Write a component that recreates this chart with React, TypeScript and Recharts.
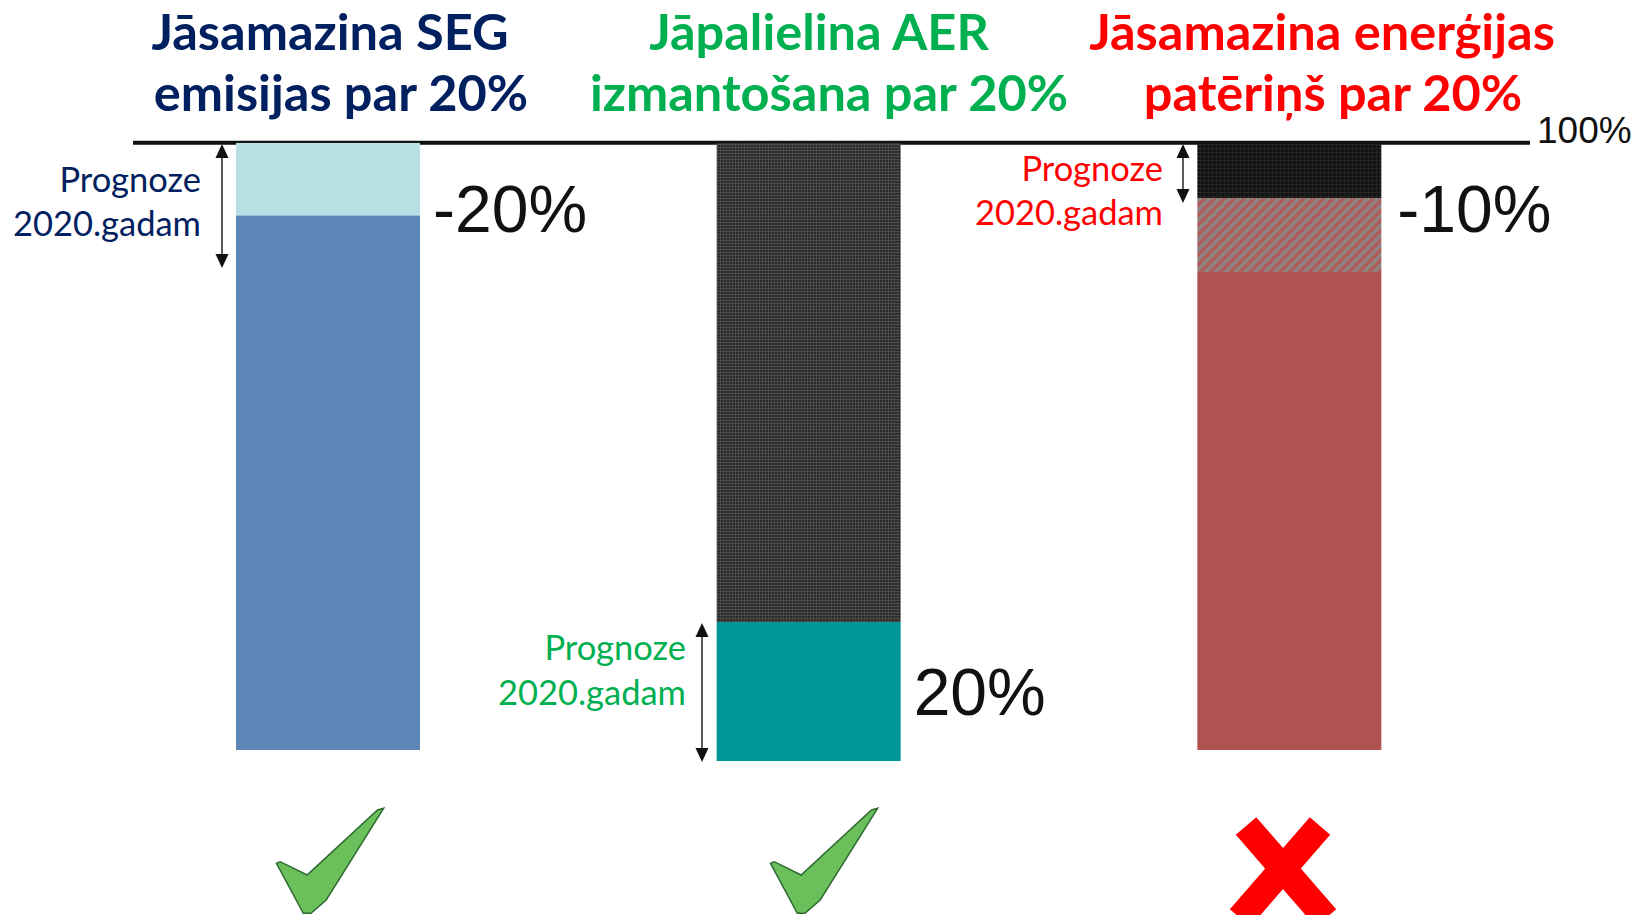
import { BarChart, Bar, XAxis, YAxis, Cell, LabelList, ReferenceLine } from "recharts"

// depth of each part below the 100% line, in % of a full bar
const CATEGORIES = ["SEG emisijas", "AER izmantošana", "Enerģijas patēriņš"]
const TOP_PART = [12.0, 78.9, 9.2]
const MIDDLE_PART = [0, 0, 12.1]
const BOTTOM_PART = [88.0, 22.9, 78.7]
const CHANGE_LABELS = ["-20%", "20%", "-10%"]
const LINE_LABEL = "100%"
const TITLE_LINES = [
  ["Jāsamazina SEG", "emisijas par 20%"],
  ["Jāpalielina AER", "izmantošana par 20%"],
  ["Jāsamazina enerģijas", "patēriņš par 20%"],
]
const FORECAST_LINES = ["Prognoze", "2020.gadam"]
const VERDICTS = ["ok", "ok", "fail"]

const data = CATEGORIES.map((name, i) => ({
  name,
  top: TOP_PART[i],
  middle: MIDDLE_PART[i],
  bottom: BOTTOM_PART[i],
}))

const W = 1641
const H = 915
const TITLE_COLORS = ["#002060", "#00b050", "#ff0000"]
const TOP_FILLS = ["#b8dfe4", "url(#aerGrid)", "url(#blackGrid)"]
const MIDDLE_FILLS = ["none", "none", "url(#redHatch)"]
const BOTTOM_FILLS = ["#5e87b8", "#009796", "#b0524f"]
const TITLE_X = [
  [330, 341],
  [819, 829],
  [1322, 1333],
]
const TITLE_Y = [50, 111]
// arrow x, arrow top, arrow bottom, text right edge, text baselines
const FORECAST_POS = [
  { ax: 222, y1: 144, y2: 268, tx: 201, b: [192, 236] },
  { ax: 702, y1: 623, y2: 762, tx: 686, b: [660, 705] },
  { ax: 1183, y1: 144, y2: 203, tx: 1163, b: [181, 225] },
]
const CHECK_X = [0, 494]
const CHECK_SHAPE =
  "M383.6,808.3 L326.2,900 L311,913.3 L303.3,913.3 L276.5,863.3 L280.3,861.7 L307.1,875 L377.5,810 Z"
const LINE_START_X = 133

const bigText = {
  fontFamily: "'Liberation Sans', Arial, sans-serif",
  fontSize: 66,
  fill: "#111",
}

function changeLabel(part: "top" | "bottom") {
  return (props: any) => {
    const { x, y, width, height, index } = props
    if (part === "top" && index === 1) return null
    if (part === "bottom" && index !== 1) return null
    // the y axis is reversed, so height can come in negative
    const top = Math.min(y, y + height)
    const ty = part === "top" ? top + 89 : top + Math.abs(height) / 2 + 24
    const gap = index === 2 ? 16 : 13
    return (
      <text x={x + width + gap} y={ty} {...bigText}>
        {CHANGE_LABELS[index]}
      </text>
    )
  }
}

function Arrow({ x, y1, y2 }: { x: number; y1: number; y2: number }) {
  return (
    <g>
      <line x1={x} y1={y1 + 8} x2={x} y2={y2 - 8} stroke="#333" strokeWidth={1.6} />
      <polygon points={`${x},${y1} ${x - 6.5},${y1 + 14} ${x + 6.5},${y1 + 14}`} fill="#111" />
      <polygon points={`${x},${y2} ${x - 6.5},${y2 - 14} ${x + 6.5},${y2 - 14}`} fill="#111" />
    </g>
  )
}

export default function App() {
  return (
    <div style={{ position: "absolute", left: 0, top: 0, width: W, height: H, background: "#fff" }}>
      <svg width={0} height={0} style={{ position: "absolute" }}>
        <defs>
          <pattern id="aerGrid" patternUnits="userSpaceOnUse" width={3} height={3}>
            <rect width={3} height={3} fill="#282828" />
            <rect width={3} height={1} fill="#4e4e4e" />
            <rect width={1} height={3} fill="#484848" />
          </pattern>
          <pattern id="blackGrid" patternUnits="userSpaceOnUse" width={4} height={4}>
            <rect width={4} height={4} fill="#121212" />
            <rect width={4} height={1} fill="#262626" />
            <rect width={1} height={4} fill="#222" />
          </pattern>
          <pattern id="redHatch" patternUnits="userSpaceOnUse" width={7} height={7} patternTransform="rotate(45)">
            <rect width={7} height={7} fill="#ad5c58" />
            <rect width={3.5} height={7} fill="#8f8383" />
          </pattern>
        </defs>
      </svg>

      <BarChart
        width={W}
        height={H}
        data={data}
        margin={{ top: 142.7, right: 111, bottom: 43.5, left: 88 }}
      >
        <XAxis dataKey="name" hide />
        <YAxis type="number" domain={[0, 120]} reversed allowDataOverflow hide />
        <ReferenceLine
          y={0}
          zIndex={100}
          stroke="#111"
          strokeWidth={4}
          shape={(p: any) => (
            <line x1={LINE_START_X} y1={p.y1} x2={p.x2} y2={p.y2} stroke="#111" strokeWidth={4} />
          )}
          label={(p: any) => {
            const vb = p.viewBox || {}
            return (
              <text
                x={(vb.x || 0) + (vb.width || 0) + 7}
                y={(vb.y || 0) + 0.5}
                fontFamily="'Liberation Sans', Arial, sans-serif"
                fontSize={37}
                fill="#111"
              >
                {LINE_LABEL}
              </text>
            )
          }}
        />
        <Bar dataKey="top" stackId="a" barSize={184} isAnimationActive={false}>
          {data.map((d, i) => (
            <Cell key={d.name} fill={TOP_FILLS[i]} />
          ))}
          <LabelList dataKey="top" content={changeLabel("top")} />
        </Bar>
        <Bar dataKey="middle" stackId="a" barSize={184} isAnimationActive={false}>
          {data.map((d, i) => (
            <Cell key={d.name} fill={MIDDLE_FILLS[i]} />
          ))}
        </Bar>
        <Bar dataKey="bottom" stackId="a" barSize={184} isAnimationActive={false}>
          {data.map((d, i) => (
            <Cell key={d.name} fill={BOTTOM_FILLS[i]} />
          ))}
          <LabelList dataKey="bottom" content={changeLabel("bottom")} />
        </Bar>
      </BarChart>

      <svg
        width={W}
        height={H}
        style={{ position: "absolute", left: 0, top: 0, pointerEvents: "none" }}
      >
        {TITLE_LINES.map((lines, i) =>
          lines.map((t, j) => (
            <text
              key={t}
              x={TITLE_X[i][j]}
              y={TITLE_Y[j]}
              textAnchor="middle"
              fontFamily="Lato, 'Open Sans', sans-serif"
              fontWeight={700}
              fontSize={50.5}
              fill={TITLE_COLORS[i]}
            >
              {t}
            </text>
          ))
        )}
        {FORECAST_POS.map((f, i) => (
          <g key={i}>
            <Arrow x={f.ax} y1={f.y1} y2={f.y2} />
            {FORECAST_LINES.map((t, j) => (
              <text
                key={t}
                x={f.tx}
                y={f.b[j]}
                textAnchor="end"
                fontFamily="Lato, 'Open Sans', sans-serif"
                fontSize={34.5}
                fill={TITLE_COLORS[i]}
              >
                {t}
              </text>
            ))}
          </g>
        ))}
        {VERDICTS.map((v, i) =>
          v === "ok" ? (
            <path
              key={i}
              d={CHECK_SHAPE}
              transform={`translate(${CHECK_X[i]},0)`}
              fill="#6cc05c"
              stroke="#2e6b30"
              strokeWidth={1.5}
            />
          ) : (
            <g key={i} stroke="#ff0000" strokeWidth={27}>
              <line x1={1246} y1={826} x2={1326} y2={918} />
              <line x1={1320} y1={826} x2={1240} y2={918} />
            </g>
          )
        )}
      </svg>
    </div>
  )
}
